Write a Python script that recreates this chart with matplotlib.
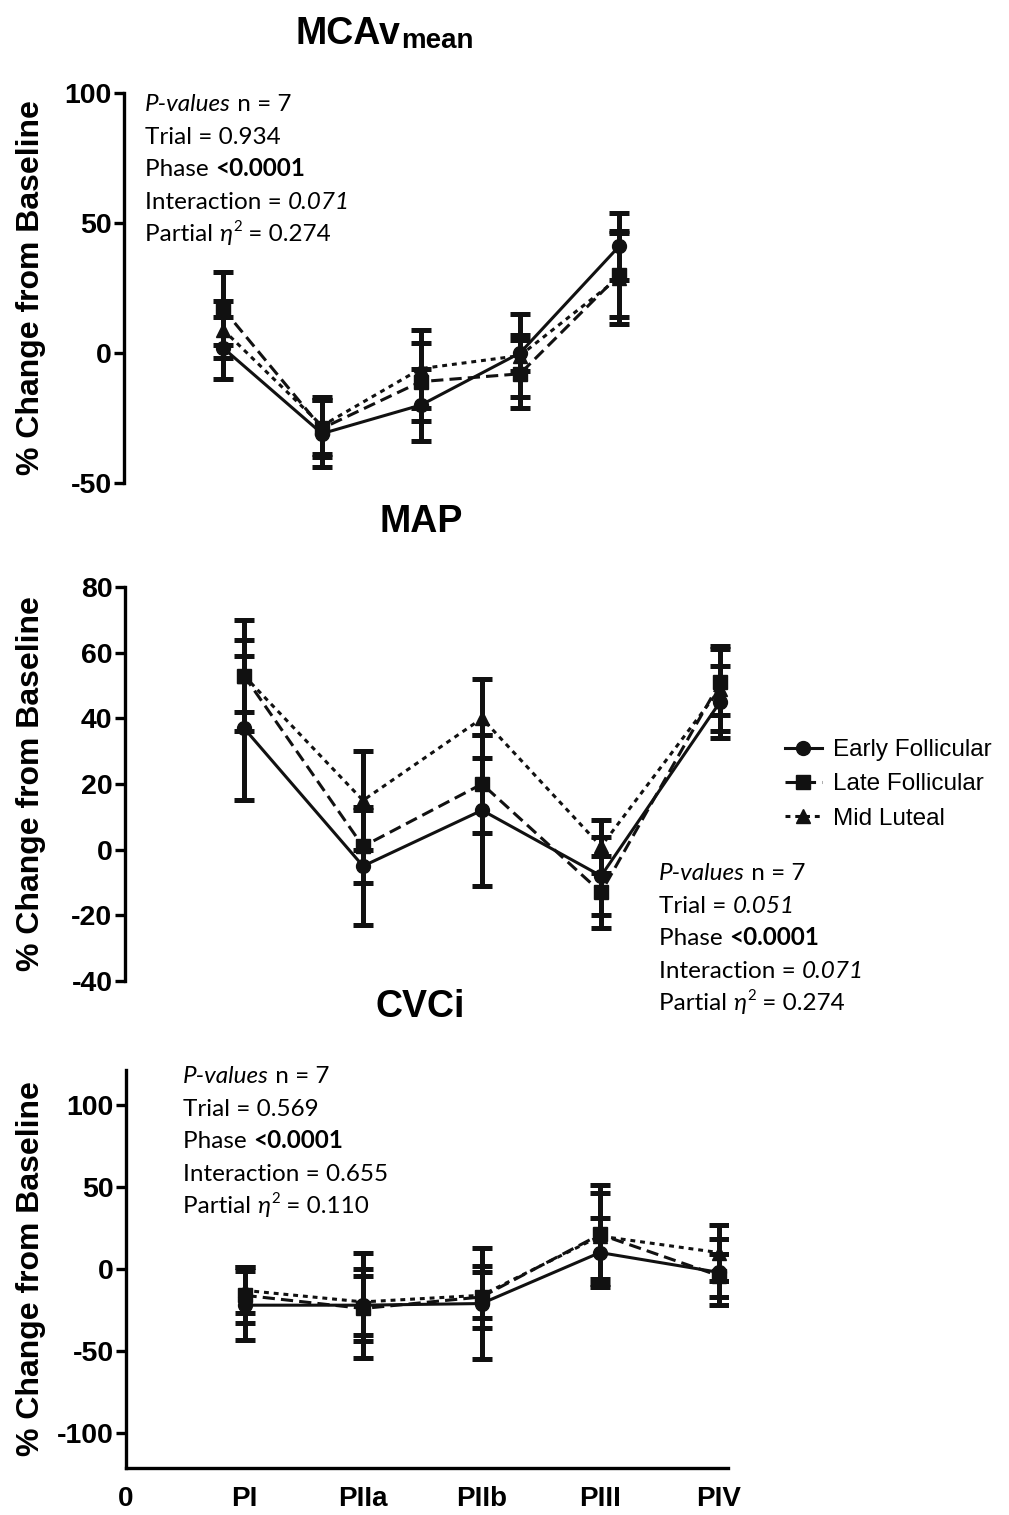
import matplotlib
matplotlib.use('Agg')
import matplotlib.pyplot as plt
from matplotlib.lines import Line2D

plt.rcParams['font.family'] = ['Liberation Sans', 'DejaVu Sans']
plt.rcParams['axes.unicode_minus'] = False

phases = ['PI', 'PIIa', 'PIIb', 'PIII', 'PIV']
xpos = [1, 2, 3, 4, 5]
groups = ['Early Follicular', 'Late Follicular', 'Mid Luteal']

# MCAv mean
mca_early = [2, -31, -20, 0, 41]
mca_early_err = [12, 13, 14, 7, 13]
mca_late = [17, -29, -11, -8, 30]
mca_late_err = [14, 11, 15, 13, 16]
mca_mid = [9, -28, -6, -1, 29]
mca_mid_err = [11, 11, 15, 16, 18]

# MAP
map_early = [37, -5, 12, -8, 45]
map_early_err = [22, 18, 23, 12, 11]
map_late = [53, 1, 20, -13, 51]
map_late_err = [17, 11, 15, 11, 10]
map_mid = [53, 15, 40, 1, 49]
map_mid_err = [11, 15, 12, 8, 13]

# CVCi
cvc_early = [-22, -22, -21, 10, -2]
cvc_early_err = [21, 32, 34, 21, 20]
cvc_late = [-16, -24, -17, 21, -4]
cvc_late_err = [17, 20, 19, 30, 13]
cvc_mid = [-13, -20, -16, 20, 10]
cvc_mid_err = [14, 20, 14, 26, 17]

# stats lines: list of (text, style) pieces, style: n normal, i italic, b bold
stats_mca = [[('P-values', 'i'), (' n = 7', 'n')],
             [('Trial = 0.934', 'n')],
             [('Phase ', 'n'), ('<0.0001', 'b')],
             [('Interaction = ', 'n'), ('0.071', 'i')],
             [('Partial ', 'n'), ('η', 'i'), ('2', 's'), (' = 0.274', 'n')]]
stats_map = [[('P-values', 'i'), (' n = 7', 'n')],
             [('Trial = ', 'n'), ('0.051', 'i')],
             [('Phase ', 'n'), ('<0.0001', 'b')],
             [('Interaction = ', 'n'), ('0.071', 'i')],
             [('Partial ', 'n'), ('η', 'i'), ('2', 's'), (' = 0.274', 'n')]]
stats_cvc = [[('P-values', 'i'), (' n = 7', 'n')],
             [('Trial = 0.569', 'n')],
             [('Phase ', 'n'), ('<0.0001', 'b')],
             [('Interaction = 0.655', 'n')],
             [('Partial ', 'n'), ('η', 'i'), ('2', 's'), (' = 0.110', 'n')]]

W, H = 1009, 1515
fig = plt.figure(figsize=(W / 100, H / 100), dpi=100)
renderer = fig.canvas.get_renderer()


def rect(left, top, width, bottom):
    return [left / W, 1 - bottom / H, width / W, (bottom - top) / H]


styles = [dict(ls='-', marker='o'),
          dict(ls=(0, (4, 2)), marker='s'),
          dict(ls=(0, (1.6, 1.6)), marker='^')]


def panel(ax, series, errs):
    for (y, e), st, lab in zip(zip(series, errs), styles, groups):
        ax.errorbar(xpos, y, yerr=e, color='#111111', lw=2.2, ls=st['ls'],
                    marker=st['marker'], ms=10, elinewidth=3.6, capsize=7,
                    capthick=3.6, label=lab)
    for s in ['top', 'right']:
        ax.spines[s].set_visible(False)
    ax.spines['left'].set_linewidth(2.4)
    ax.tick_params(axis='y', width=2.4, length=7, labelsize=20.5, pad=2)
    for t in ax.get_yticklabels():
        t.set_fontweight('bold')


ax1 = fig.add_axes(rect(124, 93, 594, 483))
panel(ax1, [mca_early, mca_late, mca_mid], [mca_early_err, mca_late_err, mca_mid_err])
ax1.set_xlim(0, 6)
ax1.set_ylim(-50, 100)
ax1.set_yticks([-50, 0, 50, 100])
ax1.spines['bottom'].set_visible(False)
ax1.set_xticks([])

ax2 = fig.add_axes(rect(125, 587, 607, 981))
panel(ax2, [map_early, map_late, map_mid], [map_early_err, map_late_err, map_mid_err])
ax2.set_xlim(0, 5.1)
ax2.set_ylim(-40, 80)
ax2.set_yticks([-40, -20, 0, 20, 40, 60, 80])
ax2.spines['bottom'].set_visible(False)
ax2.set_xticks([])

ax3 = fig.add_axes(rect(126, 1070, 602, 1468))
panel(ax3, [cvc_early, cvc_late, cvc_mid], [cvc_early_err, cvc_late_err, cvc_mid_err])
ax3.set_xlim(0, 5.08)
ax3.set_ylim(-121, 121)
ax3.set_yticks([-100, -50, 0, 50, 100])
ax3.spines['bottom'].set_linewidth(2.4)
ax3.set_xticks([0] + xpos)
ax3.set_xticklabels(['0'] + phases, fontsize=20, fontweight='bold')
ax3.tick_params(axis='x', length=0, pad=13)

for ax, left, width in [(ax1, 124, 594), (ax2, 125, 607), (ax3, 126, 602)]:
    ax.set_ylabel('% Change from Baseline', fontsize=23, fontweight='bold')
    ax.yaxis.set_label_coords((46 - left) / width, 0.5)

fig.text(400 / W, 1 - 44 / H, 'MCAv', fontsize=27, fontweight='bold', ha='right', va='baseline')
fig.text(401 / W, 1 - 48 / H, 'mean', fontsize=20, fontweight='bold', ha='left', va='baseline')
fig.text(421 / W, 1 - 522 / H, 'MAP', fontsize=27, fontweight='bold', ha='center', va='center')
fig.text(420 / W, 1 - 1007 / H, 'CVCi', fontsize=27, fontweight='bold', ha='center', va='center')

fsize = 17.5


def rich_line(x0, y0, pieces):
    x = x0
    for txt, st in pieces:
        kw = dict(fontsize=fsize, family='Lato', ha='left', va='baseline')
        y = y0
        if st == 'i':
            kw['style'] = 'italic'
        elif st == 'b':
            kw['weight'] = 'bold'
        elif st == 's':
            kw['fontsize'] = fsize * 0.62
            y = y0 - 10
            x += 1
        t = fig.text(x / W, 1 - y / H, txt, **kw)
        bb = t.get_window_extent(renderer)
        x += bb.width


for lines, x0, y0 in [(stats_mca, 145, 111), (stats_map, 659, 880), (stats_cvc, 183, 1083)]:
    for i, pieces in enumerate(lines):
        rich_line(x0, y0 + i * 32.6, pieces)

handles = [Line2D([], [], color='#111111', lw=2.2, ls=st['ls'], marker=st['marker'], ms=10)
           for st in styles]
fig.legend(handles, groups, loc='upper left', bbox_to_anchor=(773 / W, 1 - 727 / H),
           frameon=False, fontsize=17.5, handlelength=1.5, handletextpad=0.45,
           labelspacing=0.5, borderpad=0)

fig.savefig('out.png', dpi=100)
